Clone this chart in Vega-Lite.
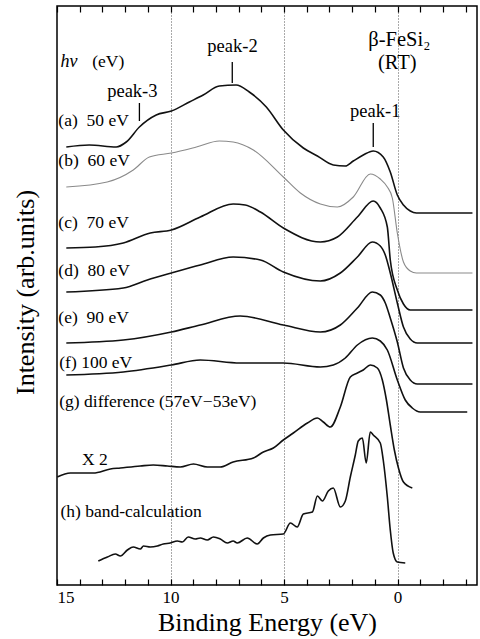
{
  "$schema": "https://vega.github.io/schema/vega-lite/v6.json",
  "width": 420,
  "height": 579,
  "autosize": {"type": "none"},
  "padding": {"left": 57, "top": 6, "right": 3, "bottom": 54},
  "background": "white",
  "config": {
    "view": {"stroke": "black", "strokeWidth": 1.5},
    "font": "Liberation Serif"
  },
  "datasets": {
    "curves": [
      {"s":"a","x":14.59,"y":438},{"s":"a","x":13.58,"y":440},{"s":"a","x":12.39,"y":438},{"s":"a","x":11.95,"y":443},{"s":"a","x":11.37,"y":458},{"s":"a","x":10.63,"y":470},{"s":"a","x":9.96,"y":474},{"s":"a","x":9.17,"y":483},{"s":"a","x":8.56,"y":490},{"s":"a","x":7.85,"y":499},{"s":"a","x":7.11,"y":500},{"s":"a","x":6.53,"y":493},{"s":"a","x":5.78,"y":478},{"s":"a","x":5.03,"y":455},{"s":"a","x":4.15,"y":437},{"s":"a","x":3.53,"y":429},{"s":"a","x":2.83,"y":420},{"s":"a","x":2.3,"y":419},{"s":"a","x":1.95,"y":424},{"s":"a","x":1.51,"y":430},{"s":"a","x":1.07,"y":434},{"s":"a","x":0.63,"y":428},{"s":"a","x":0.32,"y":413},{"s":"a","x":0.01,"y":390},{"s":"a","x":-0.26,"y":380},{"s":"a","x":-0.56,"y":374},{"s":"a","x":-0.83,"y":372},{"s":"a","x":-3.3,"y":372},
      {"s":"b","x":14.59,"y":398},{"s":"b","x":12.79,"y":403},{"s":"b","x":11.64,"y":415},{"s":"b","x":10.93,"y":428},{"s":"b","x":9.96,"y":432},{"s":"b","x":8.86,"y":438},{"s":"b","x":7.85,"y":444},{"s":"b","x":7.24,"y":443},{"s":"b","x":6.35,"y":435},{"s":"b","x":5.03,"y":408},{"s":"b","x":4.28,"y":392},{"s":"b","x":3.4,"y":381},{"s":"b","x":2.65,"y":378},{"s":"b","x":1.95,"y":388},{"s":"b","x":1.2,"y":411},{"s":"b","x":0.76,"y":406},{"s":"b","x":0.45,"y":398},{"s":"b","x":0.23,"y":387},{"s":"b","x":0.01,"y":352},{"s":"b","x":-0.26,"y":323},{"s":"b","x":-0.56,"y":314},{"s":"b","x":-0.83,"y":312},{"s":"b","x":-3.3,"y":312},
      {"s":"c","x":14.59,"y":337},{"s":"c","x":13.31,"y":338},{"s":"c","x":12.08,"y":342},{"s":"c","x":10.89,"y":352},{"s":"c","x":9.96,"y":355},{"s":"c","x":8.69,"y":368},{"s":"c","x":7.24,"y":381},{"s":"c","x":6.71,"y":380},{"s":"c","x":6.04,"y":373},{"s":"c","x":5.03,"y":357},{"s":"c","x":3.4,"y":343},{"s":"c","x":2.65,"y":348},{"s":"c","x":1.77,"y":368},{"s":"c","x":1.07,"y":384},{"s":"c","x":0.76,"y":377},{"s":"c","x":0.45,"y":358},{"s":"c","x":0.32,"y":325},{"s":"c","x":0.01,"y":295},{"s":"c","x":-0.26,"y":281},{"s":"c","x":-0.56,"y":275},{"s":"c","x":-3.3,"y":275},
      {"s":"d","x":14.59,"y":293},{"s":"d","x":12.08,"y":297},{"s":"d","x":11.02,"y":305},{"s":"d","x":9.96,"y":312},{"s":"d","x":8.69,"y":320},{"s":"d","x":7.24,"y":328},{"s":"d","x":6.04,"y":325},{"s":"d","x":5.03,"y":313},{"s":"d","x":3.4,"y":304},{"s":"d","x":2.52,"y":312},{"s":"d","x":1.77,"y":328},{"s":"d","x":1.11,"y":343},{"s":"d","x":0.76,"y":339},{"s":"d","x":0.54,"y":330},{"s":"d","x":0.32,"y":312},{"s":"d","x":0.01,"y":282},{"s":"d","x":-0.26,"y":258},{"s":"d","x":-0.56,"y":246},{"s":"d","x":-0.87,"y":242},{"s":"d","x":-3.3,"y":242},
      {"s":"e","x":14.59,"y":242},{"s":"e","x":12.08,"y":245},{"s":"e","x":9.96,"y":253},{"s":"e","x":8.69,"y":260},{"s":"e","x":6.93,"y":269},{"s":"e","x":5.03,"y":260},{"s":"e","x":3.4,"y":253},{"s":"e","x":2.52,"y":260},{"s":"e","x":1.77,"y":277},{"s":"e","x":1.11,"y":293},{"s":"e","x":0.76,"y":290},{"s":"e","x":0.54,"y":282},{"s":"e","x":0.32,"y":267},{"s":"e","x":0.01,"y":243},{"s":"e","x":-0.26,"y":217},{"s":"e","x":-0.56,"y":205},{"s":"e","x":-0.87,"y":201},{"s":"e","x":-3.3,"y":201},
      {"s":"f","x":14.59,"y":210},{"s":"f","x":12.08,"y":213},{"s":"f","x":9.96,"y":220},{"s":"f","x":8.69,"y":225},{"s":"f","x":6.93,"y":222},{"s":"f","x":5.03,"y":222},{"s":"f","x":3.4,"y":218},{"s":"f","x":2.83,"y":220},{"s":"f","x":2.3,"y":227},{"s":"f","x":1.77,"y":240},{"s":"f","x":1.11,"y":247},{"s":"f","x":0.76,"y":244},{"s":"f","x":0.45,"y":235},{"s":"f","x":0.01,"y":205},{"s":"f","x":-0.34,"y":185},{"s":"f","x":-0.65,"y":177},{"s":"f","x":-1.0,"y":173},{"s":"f","x":-3.07,"y":173},
      {"s":"g","x":14.99,"y":108},{"s":"g","x":14.41,"y":112},{"s":"g","x":13.4,"y":112},{"s":"g","x":12.65,"y":116},{"s":"g","x":12.21,"y":117},{"s":"g","x":11.33,"y":119},{"s":"g","x":10.76,"y":120},{"s":"g","x":10.14,"y":119},{"s":"g","x":9.57,"y":118},{"s":"g","x":8.99,"y":121},{"s":"g","x":8.38,"y":118},{"s":"g","x":7.81,"y":118},{"s":"g","x":7.24,"y":123},{"s":"g","x":6.35,"y":127},{"s":"g","x":5.91,"y":133},{"s":"g","x":5.47,"y":137},{"s":"g","x":5.03,"y":145},{"s":"g","x":4.59,"y":152},{"s":"g","x":3.97,"y":162},{"s":"g","x":3.53,"y":167},{"s":"g","x":3.27,"y":163},{"s":"g","x":2.96,"y":158},{"s":"g","x":2.52,"y":178},{"s":"g","x":2.08,"y":208},{"s":"g","x":1.77,"y":212},{"s":"g","x":1.51,"y":215},{"s":"g","x":1.2,"y":220},{"s":"g","x":0.89,"y":217},{"s":"g","x":0.67,"y":205},{"s":"g","x":0.49,"y":185},{"s":"g","x":0.32,"y":160},{"s":"g","x":0.14,"y":135},{"s":"g","x":-0.04,"y":117},{"s":"g","x":-0.26,"y":103},{"s":"g","x":-0.65,"y":97},
      {"s":"h","x":13.18,"y":24},{"s":"h","x":12.78,"y":28},{"s":"h","x":12.43,"y":31},{"s":"h","x":12.21,"y":29},{"s":"h","x":11.9,"y":35},{"s":"h","x":11.64,"y":38},{"s":"h","x":11.33,"y":36},{"s":"h","x":11.19,"y":39},{"s":"h","x":10.89,"y":38},{"s":"h","x":10.58,"y":39},{"s":"h","x":10.32,"y":41},{"s":"h","x":10.01,"y":42},{"s":"h","x":9.7,"y":44},{"s":"h","x":9.48,"y":43},{"s":"h","x":9.22,"y":48},{"s":"h","x":8.91,"y":46},{"s":"h","x":8.69,"y":47},{"s":"h","x":8.38,"y":45},{"s":"h","x":8.11,"y":48},{"s":"h","x":7.81,"y":46},{"s":"h","x":7.5,"y":42},{"s":"h","x":7.24,"y":44},{"s":"h","x":7.06,"y":42},{"s":"h","x":6.62,"y":47},{"s":"h","x":6.18,"y":41},{"s":"h","x":5.91,"y":47},{"s":"h","x":5.6,"y":50},{"s":"h","x":5.03,"y":51},{"s":"h","x":4.72,"y":62},{"s":"h","x":4.42,"y":58},{"s":"h","x":4.15,"y":71},{"s":"h","x":3.75,"y":73},{"s":"h","x":3.53,"y":89},{"s":"h","x":3.31,"y":84},{"s":"h","x":3.05,"y":94},{"s":"h","x":2.83,"y":97},{"s":"h","x":2.52,"y":78},{"s":"h","x":2.3,"y":84},{"s":"h","x":2.08,"y":108},{"s":"h","x":1.86,"y":130},{"s":"h","x":1.73,"y":144},{"s":"h","x":1.55,"y":147},{"s":"h","x":1.38,"y":122},{"s":"h","x":1.2,"y":153},{"s":"h","x":1.07,"y":150},{"s":"h","x":0.76,"y":142},{"s":"h","x":0.63,"y":125},{"s":"h","x":0.45,"y":88},{"s":"h","x":0.32,"y":55},{"s":"h","x":0.19,"y":32},{"s":"h","x":0.01,"y":23},{"s":"h","x":-0.34,"y":22}
    ],
    "labels": [
      {"t":"(a)\u00a0\u00a050 eV","x":14.94,"y":464},
      {"t":"(b)\u00a0\u00a060 eV","x":14.94,"y":424},
      {"t":"(c)\u00a0\u00a070 eV","x":14.94,"y":362},
      {"t":"(d)\u00a0\u00a080 eV","x":14.94,"y":314},
      {"t":"(e)\u00a0\u00a090 eV","x":14.94,"y":267},
      {"t":"(f) 100 eV","x":14.9,"y":222},
      {"t":"(g) difference (57eV\u221253eV)","x":14.9,"y":183},
      {"t":"(h) band-calculation","x":14.85,"y":73},
      {"t":"(eV)","x":13.45,"y":523},
      {"t":"X 2","x":13.9,"y":125}
    ],
    "italic": [{"t":"h\u03bd","x":14.85,"y":523}],
    "peaks": [
      {"t":"peak-3","x":11.68,"y":494},
      {"t":"peak-2","x":7.27,"y":539},
      {"t":"peak-1","x":0.98,"y":474}
    ],
    "big": [
      {"t":"\u03b2-FeSi\u2082","x":-0.08,"y":545},
      {"t":"(RT)","x":0.01,"y":522}
    ],
    "marks": [
      {"x":11.37,"y":482,"y2":464},
      {"x":7.28,"y":523,"y2":502},
      {"x":1.07,"y":462,"y2":438}
    ]
  },
  "resolve": {"scale": {"x": "independent"}, "axis": {"x": "independent", "y": "independent"}},
  "layer": [
    {
      "data": {"name": "curves"},
      "mark": {"type": "line", "interpolate": "monotone"},
      "encoding": {
        "x": {"field": "x", "type": "quantitative",
          "scale": {"domain": [15, -3.5], "nice": false, "zero": false},
          "axis": {
            "orient": "bottom", "offset": -6,
            "values": [-3,-2,-1,0,1,2,3,4,5,6,7,8,9,10,11,12,13,14,15],
            "labelExpr": "datum.value % 5 === 0 ? datum.label : ''",
            "labelFont": "Liberation Serif", "labelFontSize": 17, "labelColor": "black",
            "labelPadding": 4,
            "tickColor": "black", "tickWidth": 1.2, "tickSize": 6,
            "domain": false,
            "grid": true, "gridColor": "#555", "gridDash": [1, 2], "gridWidth": 1,
            "gridOpacity": {"condition": {"test": "datum.value === 10 || datum.value === 5 || datum.value === 0", "value": 1}, "value": 0},
            "title": "Binding Energy (eV)", "titleFont": "Liberation Serif", "titleFontSize": 26,
            "titleFontWeight": "normal", "titleColor": "black",
            "titleBaseline": "alphabetic", "titleY": 51
          }},
        "y": {"field": "y", "type": "quantitative",
          "scale": {"domain": [0, 579], "nice": false, "zero": false},
          "axis": {
            "ticks": false, "labels": false, "domain": false, "grid": false,
            "title": "Intensity (arb.units)", "titleFont": "Liberation Serif", "titleFontSize": 26,
            "titleFontWeight": "normal", "titleColor": "black",
            "titleAngle": -90, "titleBaseline": "alphabetic", "titleAlign": "center",
            "titleX": -24, "titleY": 286
          }},
        "detail": {"field": "s"},
        "color": {"condition": {"test": "datum.s === 'b'", "value": "#8a8a8a"}, "value": "#111"},
        "strokeWidth": {"condition": {"test": "datum.s === 'b'", "value": 1.1}, "value": 1.6}
      }
    },
    {
      "data": {"name": "labels"},
      "mark": {"type": "text", "align": "left", "baseline": "middle", "font": "Liberation Serif", "fontSize": 17.5, "color": "black"},
      "encoding": {
        "x": {"field": "x", "type": "quantitative",
          "scale": {"domain": [15, -3.5], "nice": false, "zero": false},
          "axis": {
            "orient": "top", "offset": -6,
            "values": [-3,-2,-1,0,1,2,3,4,5,6,7,8,9,10,11,12,13,14,15],
            "labels": false, "title": null, "grid": false, "domain": false,
            "tickColor": "black", "tickWidth": 1.2, "tickSize": 6
          }},
        "y": {"field": "y", "type": "quantitative", "axis": null},
        "text": {"field": "t"}
      }
    },
    {
      "data": {"name": "italic"},
      "mark": {"type": "text", "align": "left", "baseline": "middle", "font": "Liberation Serif", "fontStyle": "italic", "fontSize": 18, "color": "black"},
      "encoding": {
        "x": {"field": "x", "type": "quantitative", "scale": {"domain": [15, -3.5], "nice": false, "zero": false}, "axis": null},
        "y": {"field": "y", "type": "quantitative", "axis": null},
        "text": {"field": "t"}
      }
    },
    {
      "data": {"name": "peaks"},
      "mark": {"type": "text", "align": "center", "baseline": "middle", "font": "Liberation Serif", "fontSize": 18.5, "color": "black"},
      "encoding": {
        "x": {"field": "x", "type": "quantitative", "scale": {"domain": [15, -3.5], "nice": false, "zero": false}, "axis": null},
        "y": {"field": "y", "type": "quantitative", "axis": null},
        "text": {"field": "t"}
      }
    },
    {
      "data": {"name": "big"},
      "mark": {"type": "text", "align": "center", "baseline": "middle", "font": "Liberation Serif", "fontSize": 20.5, "color": "black"},
      "encoding": {
        "x": {"field": "x", "type": "quantitative", "scale": {"domain": [15, -3.5], "nice": false, "zero": false}, "axis": null},
        "y": {"field": "y", "type": "quantitative", "axis": null},
        "text": {"field": "t"}
      }
    },
    {
      "data": {"name": "marks"},
      "mark": {"type": "rule", "color": "black", "strokeWidth": 1.3},
      "encoding": {
        "x": {"field": "x", "type": "quantitative", "scale": {"domain": [15, -3.5], "nice": false, "zero": false}, "axis": null},
        "y": {"field": "y", "type": "quantitative", "axis": null},
        "y2": {"field": "y2"}
      }
    }
  ]
}
